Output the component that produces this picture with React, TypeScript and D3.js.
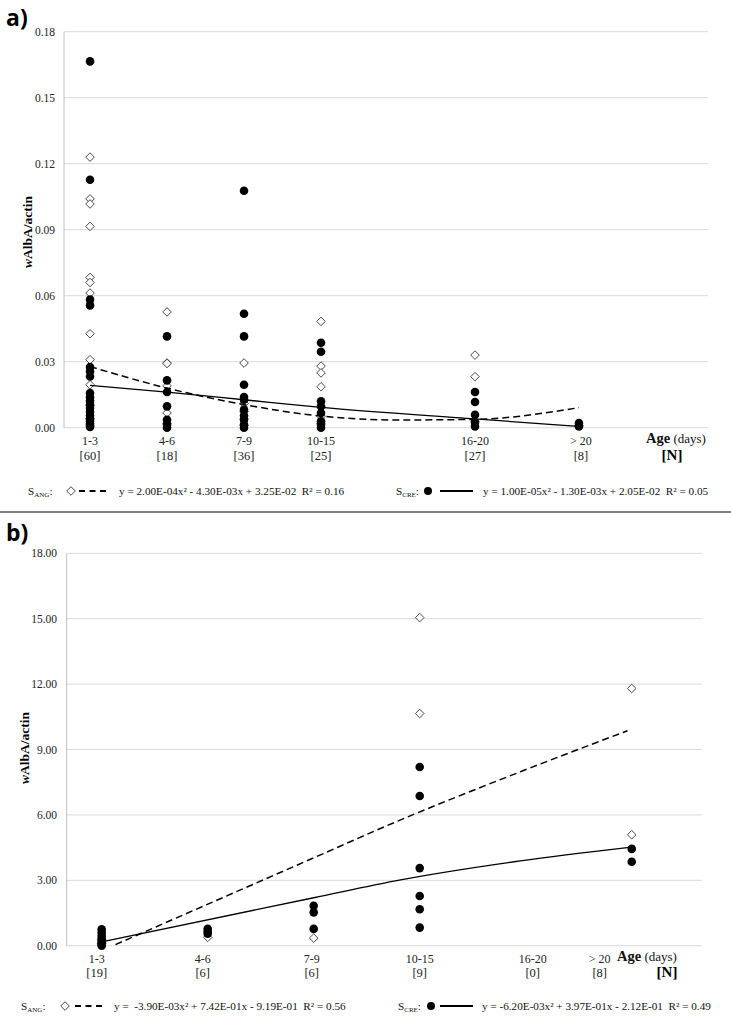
import React from 'react';
import * as d3 from 'd3';

// ---------- Panel a data ----------
const catLabelsA = ['1-3', '4-6', '7-9', '10-15', '16-20', '> 20'];
const catNA = ['[60]', '[18]', '[36]', '[25]', '[27]', '[8]'];
const catXA = [1, 2, 3, 4, 6, 7.35];
const angA: number[][] = [
  [0.123, 0.104, 0.1017, 0.0915, 0.0683, 0.066, 0.0612, 0.0427, 0.0309, 0.0195, 0.01, 0.004],
  [0.0526, 0.0294, 0.0292, 0.019, 0.0067, 0.002],
  [0.0294, 0.011, 0.0073, 0.004, 0.001],
  [0.0483, 0.028, 0.0249, 0.0186, 0.0052, 0.002],
  [0.033, 0.0232, 0.003],
  [0.001],
];
const creA: number[][] = [
  [0.1665, 0.1127, 0.0582, 0.0556, 0.0276, 0.0256, 0.0233, 0.0158, 0.0138, 0.0122, 0.0105, 0.009, 0.0072, 0.0055, 0.004, 0.0028, 0.0018, 0.001, 0.0003],
  [0.0415, 0.0215, 0.0162, 0.0097, 0.0036, 0.0014, 0.0],
  [0.1077, 0.0518, 0.0415, 0.0195, 0.0139, 0.0127, 0.0082, 0.0055, 0.0036, 0.0014, 0.0],
  [0.0386, 0.0345, 0.012, 0.0097, 0.0067, 0.0029, 0.0014, 0.0],
  [0.0162, 0.0117, 0.0059, 0.0024, 0.0006],
  [0.0021, 0.0006],
];
const angTrendA: [number, number][] = [[1, 0.0278], [2, 0.018], [3, 0.0105], [4, 0.0053], [5, 0.0035], [6, 0.0038], [7.35, 0.0091]];
const creTrendA: [number, number][] = [[1, 0.0192], [2, 0.0162], [3, 0.0127], [4, 0.0092], [6, 0.004], [7.35, 0.0006]];
const yTicksA = [0, 0.03, 0.06, 0.09, 0.12, 0.15, 0.18];
const eqAngA = 'y = 2.00E-04x² - 4.30E-03x + 3.25E-02  R² = 0.16';
const eqCreA = 'y = 1.00E-05x² - 1.30E-03x + 2.05E-02  R² = 0.05';

// ---------- Panel b data ----------
const catLabelsB = ['1-3', '4-6', '7-9', '10-15', '16-20', '> 20'];
const catNB = ['[19]', '[6]', '[6]', '[9]', '[0]', '[8]'];
const catXB = [1, 2, 3, 4, 5, 6];
const angB: number[][] = [
  [0.3, 0.1],
  [0.38],
  [0.35],
  [15.05, 10.65],
  [],
  [11.8, 5.09],
];
const creB: number[][] = [
  [0.75, 0.6, 0.45, 0.3, 0.2, 0.1, 0.05, 0.0],
  [0.78, 0.65, 0.55],
  [1.83, 1.53, 0.77],
  [8.2, 6.87, 3.56, 2.28, 1.67, 0.83],
  [],
  [4.44, 3.85],
];
const angTrendB: [number, number][] = [[1.13, 0.05], [3, 4.03], [3.78, 5.69], [4.95, 7.98], [5.96, 9.86]];
const creTrendB: [number, number][] = [[1, 0.18], [3, 2.2], [3.82, 3.02], [4.95, 3.89], [5.98, 4.51]];
const yTicksB = [0, 3, 6, 9, 12, 15, 18];
const eqAngB = 'y =  -3.90E-03x² + 7.42E-01x - 9.19E-01  R² = 0.56';
const eqCreB = 'y = -6.20E-03x² + 3.97E-01x - 2.12E-01  R² = 0.49';

const SERIF = '"Liberation Serif", "Times New Roman", serif';

type PanelProps = {
  label: string;
  labelY: number;
  left: number; right: number; top: number; bottom: number;
  xDomain: [number, number];
  yMax: number;
  yTicks: number[];
  catX: number[]; catLabels: string[]; catN: string[];
  labelShift: number[];
  tickY: number; nY: number;
  ageX: number; nX: number;
  ang: number[][]; cre: number[][];
  angTrend: [number, number][]; creTrend: [number, number][];
  titleX: number; titleY: number;
  tickRight: number;
  legendY: number;
  legend: { s1: number; dia: number; dash: [number, number]; eq1: number; s2: number; dot: number; line: [number, number]; eq2: number };
  eqAng: string; eqCre: string;
};

function Panel(p: PanelProps) {
  const x = d3.scaleLinear().domain(p.xDomain).range([p.left, p.right]);
  const y = d3.scaleLinear().domain([0, p.yMax]).range([p.bottom, p.top]);
  const line = d3.line<[number, number]>().x(d => x(d[0])).y(d => y(d[1])).curve(d3.curveMonotoneX);
  const dia = 'M0,-4.3L4.3,0L0,4.3L-4.3,0Z';
  const L = p.legend;
  const LF = 11.2;
  return (
    <g>
      <text x={6} y={p.labelY} fontFamily='"Open Sans", "Liberation Sans", sans-serif' fontWeight={700} fontSize={23}>{p.label}</text>
      {p.yTicks.map(t => (
        <g key={t}>
          <line x1={p.left} x2={p.right} y1={y(t)} y2={y(t)} stroke="#d9d9d9" strokeWidth={1} />
          <text x={p.tickRight} y={y(t)} dy="0.35em" textAnchor="end" fontFamily={SERIF} fontSize={11.5} fill="#222">{t.toFixed(2)}</text>
        </g>
      ))}
      <line x1={p.left} x2={p.left} y1={p.top} y2={p.bottom} stroke="#bfbfbf" strokeWidth={1} />
      <text transform={`translate(${p.titleX},${p.titleY}) rotate(-90)`} textAnchor="middle" fontFamily={SERIF} fontWeight={700} fontSize={13.5}>
        <tspan fontStyle="italic">w</tspan>AlbA/actin
      </text>
      {p.catLabels.map((c, i) => (
        <g key={c}>
          <text x={x(p.catX[i]) + p.labelShift[i]} y={p.tickY} textAnchor="middle" fontFamily={SERIF} fontSize={12} fill="#222">{c}</text>
          <text x={x(p.catX[i]) + p.labelShift[i]} y={p.nY} textAnchor="middle" fontFamily={SERIF} fontSize={12.5} fill="#222">{p.catN[i]}</text>
        </g>
      ))}
      <text x={p.ageX} y={p.tickY - 2} fontFamily={SERIF} fill="#111">
        <tspan fontWeight={700} fontSize={14.5}>Age</tspan>
        <tspan fontSize={13}> (days)</tspan>
      </text>
      <text x={p.nX} y={p.nY} textAnchor="middle" fontFamily={SERIF} fontWeight={700} fontSize={15}>[N]</text>
      {p.ang.map((vals, i) => vals.map((v, j) => (
        <path key={`a${i}-${j}`} d={dia} transform={`translate(${x(p.catX[i])},${y(v)})`} fill="#fff" stroke="#333" strokeWidth={0.9} />
      )))}
      {p.cre.map((vals, i) => vals.map((v, j) => (
        <circle key={`c${i}-${j}`} cx={x(p.catX[i])} cy={y(v)} r={4.3} fill="#000" />
      )))}
      <path d={line(p.angTrend) || ''} fill="none" stroke="#000" strokeWidth={1.5} strokeDasharray="7,4" />
      <path d={line(p.creTrend) || ''} fill="none" stroke="#000" strokeWidth={1.3} />
      {/* legend */}
      <text x={L.s1} y={p.legendY} fontFamily={SERIF} fontSize={LF} fill="#111">
        S<tspan fontSize={7} dy={2}>ANG</tspan><tspan dy={-2}>:</tspan>
      </text>
      <path d={dia} transform={`translate(${L.dia},${p.legendY - 4})`} fill="#fff" stroke="#333" strokeWidth={0.9} />
      <line x1={L.dash[0]} x2={L.dash[1]} y1={p.legendY - 4} y2={p.legendY - 4} stroke="#000" strokeWidth={2} strokeDasharray="6,4.5" />
      <text x={L.eq1} y={p.legendY} fontFamily={SERIF} fontSize={LF} fill="#111" style={{ whiteSpace: 'pre' }}>{p.eqAng}</text>
      <text x={L.s2} y={p.legendY} fontFamily={SERIF} fontSize={LF} fill="#111">
        S<tspan fontSize={7} dy={2}>CRE</tspan><tspan dy={-2}>:</tspan>
      </text>
      <circle cx={L.dot} cy={p.legendY - 4} r={4} fill="#000" />
      <line x1={L.line[0]} x2={L.line[1]} y1={p.legendY - 4} y2={p.legendY - 4} stroke="#000" strokeWidth={2} />
      <text x={L.eq2} y={p.legendY} fontFamily={SERIF} fontSize={LF} fill="#111" style={{ whiteSpace: 'pre' }}>{p.eqCre}</text>
    </g>
  );
}

export default function App() {
  return (
    <svg width={731} height={1019} style={{ position: 'absolute', left: 0, top: 0, background: '#fff' }}>
      <rect x={0} y={0} width={731} height={1019} fill="#fff" />
      <Panel
        label="a)" labelY={26}
        left={64} right={708} top={31.7} bottom={427.7}
        xDomain={[0.662, 9.026]} yMax={0.18} yTicks={yTicksA}
        catX={catXA} catLabels={catLabelsA} catN={catNA}
        labelShift={[0, 0, 0, 0, 0, 2]}
        tickY={445} nY={459.5} ageX={646} nX={672}
        ang={angA} cre={creA} angTrend={angTrendA} creTrend={creTrendA}
        titleX={32} titleY={232} tickRight={55}
        legendY={495}
        legend={{ s1: 28, dia: 71, dash: [79, 110], eq1: 119, s2: 396, dot: 428, line: [440, 473], eq2: 483 }}
        eqAng={eqAngA} eqCre={eqCreA}
      />
      <line x1={0} x2={731} y1={512} y2={512} stroke="#7f7f7f" strokeWidth={2} />
      <Panel
        label="b)" labelY={541}
        left={66.7} right={701.7} top={553.3} bottom={945.7}
        xDomain={[0.67, 6.66]} yMax={18} yTicks={yTicksB}
        catX={catXB} catLabels={catLabelsB} catN={catNB}
        labelShift={[-5, -5, -2, 0, 7, -32]}
        tickY={963} nY={977} ageX={617} nX={667}
        ang={angB} cre={creB} angTrend={angTrendB} creTrend={creTrendB}
        titleX={29} titleY={748} tickRight={57}
        legendY={1010}
        legend={{ s1: 21, dia: 65, dash: [75, 105], eq1: 114, s2: 398, dot: 431, line: [440, 473], eq2: 482 }}
        eqAng={eqAngB} eqCre={eqCreB}
      />
    </svg>
  );
}
